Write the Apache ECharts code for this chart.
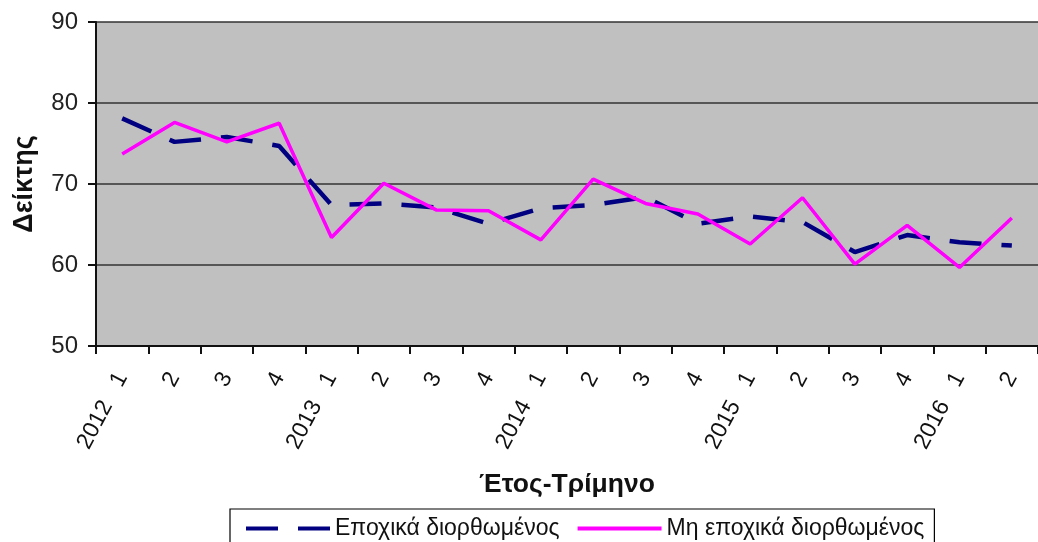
<!DOCTYPE html>
<html>
<head>
<meta charset="utf-8">
<script src="https://cdn.jsdelivr.net/npm/echarts@6/dist/echarts.min.js"></script>
<style>
html,body{margin:0;padding:0;background:#fff;}
#chart{width:1038px;height:542px;}
</style>
</head>
<body>
<div id="chart"></div>
<script>
var categories = ['2012   1','2','3','4','2013   1','2','3','4','2014   1','2','3','4','2015   1','2','3','4','2016   1','2'];
var seasonallyAdjusted = [78.1,75.2,75.8,74.7,67.4,67.6,67.1,65.1,67.0,67.4,68.4,65.1,66.0,65.3,61.6,63.7,62.8,62.4];
var nonSeasonallyAdjusted = [73.7,77.6,75.2,77.5,63.4,70.1,66.8,66.7,63.1,70.6,67.6,66.3,62.6,68.3,60.1,64.9,59.7,65.8];
var yTicks = {min:50, max:90, interval:10};
var seriesNames = ['Εποχικά διορθωμένος','Μη εποχικά διορθωμένος'];

var chart = echarts.init(document.getElementById('chart'), null, {renderer:'canvas'});
var font = 'Liberation Sans, Arial, sans-serif';
chart.setOption({
  animation:false,
  textStyle:{fontFamily:font},
  legend:{
    orient:'horizontal',
    left:230, top:509,
    padding:[8,10,8,14],
    borderColor:'#000', borderWidth:1.2,
    itemWidth:84, itemHeight:12, itemGap:16,
    itemStyle:{opacity:0},
    lineStyle:{width:4},
    textStyle:{fontFamily:font, fontSize:23, color:'#111'},
    data:seriesNames
  },
  grid:{left:96, top:22, width:952, height:324, show:true, backgroundColor:'#c0c0c0', borderWidth:0},
  xAxis:{
    type:'category', data:categories, boundaryGap:true,
    name:'Έτος-Τρίμηνο', nameLocation:'middle', nameGap:125,
    nameTextStyle:{fontFamily:font, fontSize:26.5, fontWeight:'bold', color:'#111'},
    axisLine:{lineStyle:{color:'#111', width:2}},
    axisTick:{show:true, length:8, alignWithLabel:false, lineStyle:{color:'#111', width:2}},
    axisLabel:{interval:0, rotate:62, margin:28, fontSize:23, color:'#111', fontFamily:font}
  },
  yAxis:{
    type:'value', min:yTicks.min, max:yTicks.max, interval:yTicks.interval,
    name:'Δείκτης', nameLocation:'middle', nameGap:58, nameRotate:90,
    nameTextStyle:{fontFamily:font, fontSize:27, fontWeight:'bold', color:'#111'},
    axisLine:{show:true, lineStyle:{color:'#111', width:2}},
    axisTick:{show:true, length:8, lineStyle:{color:'#111', width:2}},
    axisLabel:{margin:18, fontSize:24, color:'#222', fontFamily:font},
    splitLine:{show:true, lineStyle:{color:'#333', width:1.6}}
  },
  series:[
    {name:seriesNames[0], type:'line', data:seasonallyAdjusted, symbol:'none',
     lineStyle:{color:'#000080', width:4.5, type:[32,20]}, itemStyle:{color:'#000080'}, z:2},
    {name:seriesNames[1], type:'line', data:nonSeasonallyAdjusted, symbol:'none',
     lineStyle:{color:'#ff00ff', width:3.5}, itemStyle:{color:'#ff00ff'}, z:3}
  ]
});
</script>
</body>
</html>
